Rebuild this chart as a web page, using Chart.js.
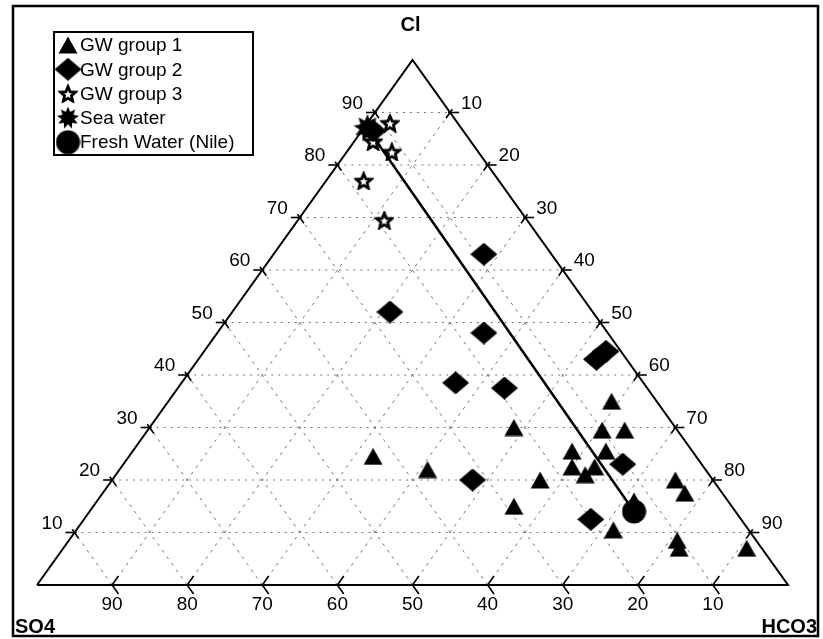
<!DOCTYPE html>
<html>
<head>
<meta charset="utf-8">
<title>Ternary plot Cl - SO4 - HCO3</title>
<script src="https://cdn.jsdelivr.net/npm/chart.js@4.4.1/dist/chart.umd.min.js"></script>
<style>
	html, body { margin: 0; padding: 0; background: #fff; }
	#wrap { position: relative; width: 823px; height: 639px; }
</style>
</head>
<body>
<div id="wrap"><canvas id="myChart"></canvas></div>
<script>
// percentages (Cl, SO4, HCO3)
const gw1Cl = [35, 29.5, 29.5, 25.5, 25.5, 22.5, 22.5, 21, 20, 17.5, 16, 10.5, 8.5, 7, 7, 30, 22, 20, 15, 24.5]
const gw1SO4 = [6, 10, 7, 16, 11.5, 17.5, 14.5, 16.5, 5, 5, 12.5, 18, 10.5, 11, 2, 21.5, 37, 23, 29, 43]
const gw1HCO3 = [59, 60.5, 63.5, 58.5, 63, 60, 63, 62.5, 75, 77.5, 71.5, 71.5, 81, 82, 91, 48.5, 41, 57, 56, 32.5]

const gw2Cl = [63, 52, 48, 38.5, 37.5, 43, 44.5, 23, 12.5, 20, 86.5]
const gw2SO4 = [9, 27, 16.5, 25, 19, 4, 2, 10.5, 20, 32, 12]
const gw2HCO3 = [28, 21, 35.5, 36.5, 43.5, 53, 53.5, 66.5, 67.5, 48, 1.5]

const gw3Cl = [88, 82.5, 77, 69.5, 84.5]
const gw3SO4 = [9, 11.5, 18, 19, 13]
const gw3HCO3 = [3, 6, 5, 11.5, 2.5]

const seaCl = [87]
const seaSO4 = [12.5]
const seaHCO3 = [0.5]

const nileCl = [14]
const nileSO4 = [13.5]
const nileHCO3 = [72.5]

const tickValues = [10, 20, 30, 40, 50, 60, 70, 80, 90]
const legendLabels = ['GW group 1', 'GW group 2', 'GW group 3', 'Sea water', 'Fresh Water (Nile)']

// ternary -> cartesian (0..100 on both axes)
function toXY(cl, so4, hco3) {
	const sum = cl + so4 + hco3
	return { x: (hco3 + cl / 2) / sum * 100, y: cl / sum * 100 }
}

function zipPoints(cl, so4, hco3) {
	return cl.map((c, i) => toXY(c, so4[i], hco3[i]))
}

function makeMarker(w, h, draw) {
	const c = document.createElement('canvas')
	c.width = w
	c.height = h
	const g = c.getContext('2d')
	g.fillStyle = '#000'
	g.strokeStyle = '#000'
	draw(g)
	return c
}

function starPath(g, cx, cy, n, ro, ri) {
	g.beginPath()
	for (let i = 0; i < n * 2; i++) {
		const r = i % 2 === 0 ? ro : ri
		const a = -Math.PI / 2 + i * Math.PI / n
		const px = cx + r * Math.cos(a)
		const py = cy + r * Math.sin(a)
		if (i === 0) g.moveTo(px, py)
		else g.lineTo(px, py)
	}
	g.closePath()
}

const triangleMark = makeMarker(20, 18, g => {
	g.beginPath()
	g.moveTo(10, 0.5)
	g.lineTo(19.5, 17.5)
	g.lineTo(0.5, 17.5)
	g.closePath()
	g.fill()
})
const diamondMark = makeMarker(27, 23, g => {
	g.beginPath()
	g.moveTo(13.5, 0)
	g.lineTo(27, 11.5)
	g.lineTo(13.5, 23)
	g.lineTo(0, 11.5)
	g.closePath()
	g.fill()
})
const starMark = makeMarker(20, 19, g => {
	g.lineWidth = 2.8
	g.lineJoin = 'miter'
	starPath(g, 10, 10.5, 5, 8, 3.6)
	g.stroke()
})
const seaMark = makeMarker(28, 28, g => {
	starPath(g, 14, 14, 9, 14, 8)
	g.fill()
})
const circleMark = makeMarker(25, 25, g => {
	g.beginPath()
	g.arc(12.5, 12.5, 12, 0, Math.PI * 2)
	g.fill()
})
const legendMarks = [triangleMark, diamondMark, starMark, seaMark, circleMark]

function markerSet(label, pts, mark) {
	return {
		label: label,
		data: pts,
		pointStyle: mark,
		pointRadius: 6,
		showLine: false,
		clip: false,
		order: 1
	}
}

const datasets = [
	markerSet(legendLabels[0], zipPoints(gw1Cl, gw1SO4, gw1HCO3), triangleMark),
	markerSet(legendLabels[1], zipPoints(gw2Cl, gw2SO4, gw2HCO3), diamondMark),
	markerSet(legendLabels[2], zipPoints(gw3Cl, gw3SO4, gw3HCO3), starMark),
	markerSet(legendLabels[3], zipPoints(seaCl, seaSO4, seaHCO3), seaMark),
	markerSet(legendLabels[4], zipPoints(nileCl, nileSO4, nileHCO3), circleMark),
	{
		// mixing line sea water -> Nile
		label: 'mixing',
		data: [toXY(seaCl[0], seaSO4[0], seaHCO3[0]), toXY(nileCl[0], nileSO4[0], nileHCO3[0])],
		showLine: true,
		borderColor: '#000',
		borderWidth: 2.5,
		pointRadius: 0,
		clip: false,
		order: 2
	},
	{
		label: 'frame',
		data: [toXY(0, 100, 0), toXY(0, 0, 100), toXY(100, 0, 0), toXY(0, 100, 0)],
		showLine: true,
		borderColor: '#000',
		borderWidth: 2,
		pointRadius: 0,
		clip: false,
		order: 3
	}
]

tickValues.forEach(k => {
	const grey = 'rgba(95, 95, 95, 0.85)'
	datasets.push({
		label: 'cl' + k,
		data: [toXY(k, 100 - k, 0), toXY(k, 0, 100 - k)],
		showLine: true, borderColor: grey, borderWidth: 1, borderDash: [2, 5],
		pointRadius: 0, clip: false, order: 4
	})
	datasets.push({
		label: 'so4' + k,
		data: [toXY(0, k, 100 - k), toXY(100 - k, k, 0)],
		showLine: true, borderColor: grey, borderWidth: 1, borderDash: [3, 5],
		pointRadius: 0, clip: false, order: 4
	})
	datasets.push({
		label: 'hco3' + k,
		data: [toXY(0, 100 - k, k), toXY(100 - k, 0, k)],
		showLine: true, borderColor: grey, borderWidth: 1, borderDash: [3, 5],
		pointRadius: 0, clip: false, order: 4
	})
})

// ticks, numbers, titles, legend box and outer border
const ternaryDecor = {
	id: 'ternaryDecor',
	afterDraw(chart) {
		const ctx = chart.ctx
		const sx = chart.scales.x
		const sy = chart.scales.y
		const px = (cl, so4, hco3) => {
			const p = toXY(cl, so4, hco3)
			return { x: sx.getPixelForValue(p.x), y: sy.getPixelForValue(p.y) }
		}
		const L = px(0, 100, 0), R = px(0, 0, 100), T = px(100, 0, 0)
		const len = Math.hypot(R.x - T.x, R.y - T.y)
		const dR = { x: (R.x - T.x) / len, y: (R.y - T.y) / len }
		const dL = { x: (L.x - T.x) / len, y: (L.y - T.y) / len }

		ctx.save()
		ctx.strokeStyle = '#000'
		ctx.lineWidth = 1.6
		ctx.fillStyle = '#000'
		ctx.font = '19px "Liberation Sans", Arial, sans-serif'
		const seg = (x1, y1, x2, y2) => {
			ctx.beginPath()
			ctx.moveTo(x1, y1)
			ctx.lineTo(x2, y2)
			ctx.stroke()
		}
		tickValues.forEach(k => {
			// left edge, Cl
			let p = px(k, 100 - k, 0)
			seg(p.x - 9, p.y, p.x + 2, p.y)
			seg(p.x - 4 * dR.x, p.y - 4 * dR.y, p.x + 7 * dR.x, p.y + 7 * dR.y)
			ctx.textAlign = 'right'
			ctx.textBaseline = 'middle'
			ctx.fillText(String(k), p.x - 12, p.y - 9)
			// bottom edge, SO4
			p = px(0, k, 100 - k)
			seg(p.x, p.y, p.x + 11 * dR.x, p.y + 11 * dR.y)
			seg(p.x, p.y, p.x - 11 * dL.x, p.y - 11 * dL.y)
			ctx.textAlign = 'center'
			ctx.fillText(String(k), p.x, p.y + 20)
			// right edge, HCO3
			p = px(100 - k, 0, k)
			seg(p.x - 2, p.y, p.x + 9, p.y)
			seg(p.x - 4 * dL.x, p.y - 4 * dL.y, p.x + 7 * dL.x, p.y + 7 * dL.y)
			ctx.textAlign = 'left'
			ctx.fillText(String(k), p.x + 11, p.y - 9)
		})

		ctx.font = 'bold 20px "Liberation Sans", Arial, sans-serif'
		ctx.textBaseline = 'middle'
		ctx.textAlign = 'center'
		ctx.fillText('Cl', T.x - 2, T.y - 35)
		ctx.textAlign = 'left'
		ctx.fillText('SO4', 15, 627)
		ctx.textAlign = 'right'
		ctx.fillText('HCO3', 817, 627)

		// legend
		ctx.lineWidth = 2
		ctx.strokeRect(54, 32, 199, 123)
		ctx.font = '19px "Liberation Sans", Arial, sans-serif'
		ctx.textAlign = 'left'
		legendLabels.forEach((lab, i) => {
			const y = 45 + i * 24.3
			const m = legendMarks[i]
			const s = i === 3 ? 0.8 : 1
			ctx.drawImage(m, 68 - m.width * s / 2, y - m.height * s / 2, m.width * s, m.height * s)
			ctx.fillText(lab, 80, y + 1)
		})

		// outer border of the figure
		ctx.lineWidth = 2.5
		ctx.strokeRect(13, 6, 805, 630)
		ctx.restore()
	}
}

const chart = new Chart(document.getElementById('myChart'), {
	type: 'scatter',
	data: { datasets: datasets },
	options: {
		responsive: true,
		maintainAspectRatio: false,
		animation: false,
		events: [],
		layout: { padding: { left: 37, right: 35, top: 60, bottom: 54 } },
		scales: {
			x: { type: 'linear', min: 0, max: 100, display: false },
			y: { type: 'linear', min: 0, max: 100, display: false }
		},
		plugins: {
			legend: { display: false },
			tooltip: { enabled: false }
		}
	},
	plugins: [ternaryDecor]
})
</script>
</body>
</html>
